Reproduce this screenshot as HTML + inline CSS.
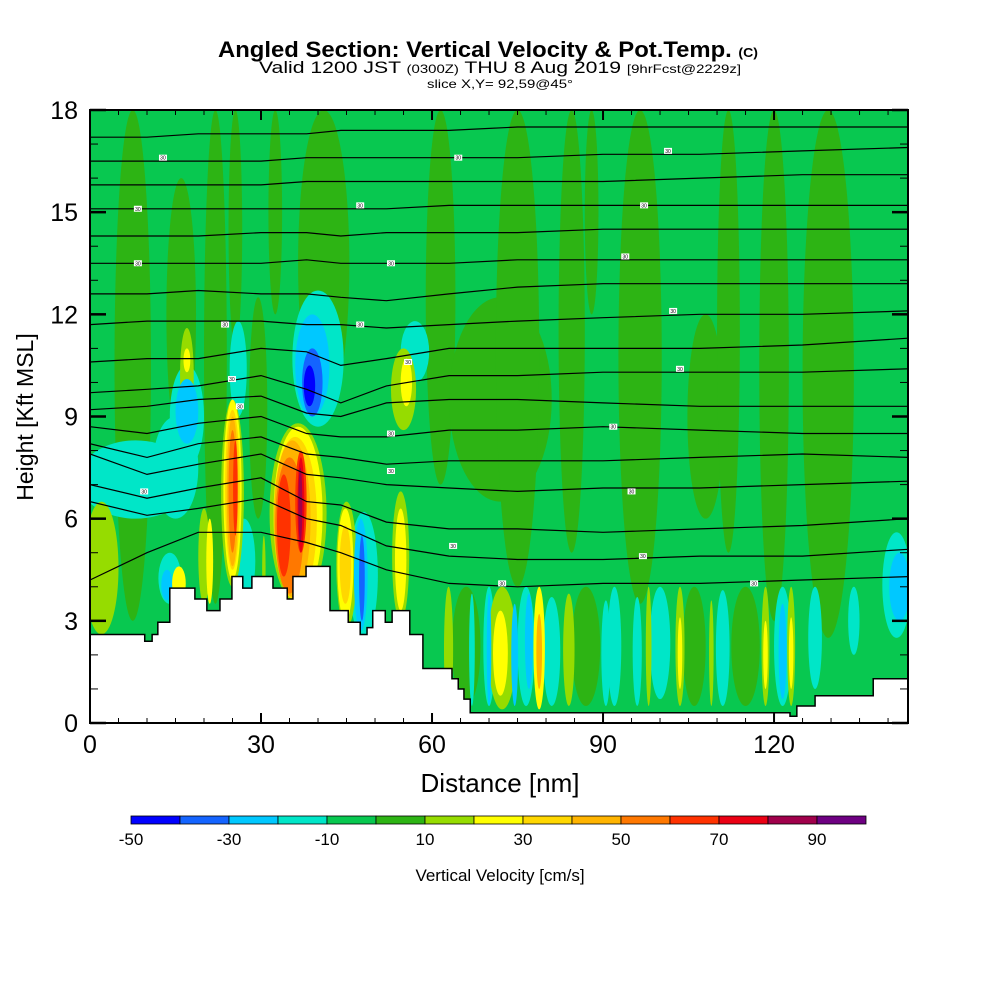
<!DOCTYPE html>
<html><head><meta charset="utf-8"><style>
html,body{margin:0;padding:0;background:#fff;}
svg{display:block;font-family:"Liberation Sans",sans-serif;}
</style></head><body>
<svg id="chart" width="1000" height="1000" viewBox="0 0 1000 1000" xmlns="http://www.w3.org/2000/svg">
<g>
<text x="218" y="57" font-size="22" font-weight="bold" textLength="540" lengthAdjust="spacingAndGlyphs">Angled Section: Vertical Velocity &amp; Pot.Temp. <tspan font-size="13">(C)</tspan></text>
<text x="259" y="73" font-size="17" textLength="482" lengthAdjust="spacingAndGlyphs">Valid 1200 JST <tspan font-size="12">(0300Z)</tspan> THU 8 Aug 2019 <tspan font-size="12">[9hrFcst@2229z]</tspan></text>
<text x="427" y="88" font-size="12" textLength="146" lengthAdjust="spacingAndGlyphs">slice X,Y= 92,59@45°</text>
</g>
<defs><clipPath id="plotclip"><rect x="90" y="110" width="818" height="613"/></clipPath></defs>
<g id="plot" clip-path="url(#plotclip)"></g>
<g id="axes"></g>
<g id="cbar"></g>
<text x="500" y="792" text-anchor="middle" font-size="26">Distance [nm]</text>
<text transform="translate(33,417) rotate(-90)" text-anchor="middle" font-size="23">Height [Kft MSL]</text>
<text x="500" y="881" text-anchor="middle" font-size="17">Vertical Velocity [cm/s]</text>
</svg>
<script>
// ---- data ----
const xTicks = [0, 30, 60, 90, 120];
const yTicks = [0, 3, 6, 9, 12, 15, 18];
const cbarLevels = [-50,-40,-30,-20,-10,0,10,20,30,40,50,60,70,80,90];
const cbarLabels = [-50,-30,-10,10,30,50,70,90];
const cbarColors = ['#0000ff','#1464ff','#00c8ff','#00e6c8','#08c850','#2db414','#96dc00','#ffff00','#ffd700','#ffb400','#ff7800','#ff3200','#eb0014','#a0004b','#6e0082'];
// velocity features: [centerNm, bottomKft, topKft, halfWidthNm, value cm/s]
const wStripes = [
[7.5,3,18,3.2,5],[16,8,16,2.6,5],[22,3.5,18,2,5],[25.5,11,18,1.2,5],[29.5,6,12.5,1.6,5],[32.5,12,18,1.2,5],[41,9,18,4.5,5],[61.5,7,18,2.6,5],[72,6.5,12.5,9,5],[75,4,18,3.8,5],[84.5,5,18,2.3,5],[88,12,18,1.2,5],[96.5,3.5,18,3.8,5],[108,6,12,3.2,5],[112,5,18,2,5],[120,3,18,2.6,5],[129.5,2.5,18,4.5,5],[66,0.5,4,2.5,5],[87,0.5,4,2.5,5],[106,0.5,4,2,5],[115,0.5,4,2.5,5]
];
const wDown1 = [
[8,6,8.3,10,-15],[15,6,9,4,-15],[40,8.7,12.7,4.5,-15],[26,9,11.8,1.5,-15],[57,10,11.8,2.5,-15],[27,3.5,6,2,-15],[67,0.5,3.8,0.5,-15],[70,0.5,4,1,-15],[76.5,0.5,4,1.5,-15],[81,0.5,3.7,1.5,-15],[90.5,0.5,3.6,0.8,-15],[92,0.5,4,1.2,-15],[96,0.5,3.7,0.8,-15],[100,0.7,4,1.8,-15],[111,0.5,3.9,1.2,-15],[121.5,0.5,4,1.5,-15],[127.2,1,4,1.2,-15],[134,2,4,1,-15],[141.5,2.5,5.6,2.5,-15],[48,2.5,6.2,2.5,-15],[14,3.5,5,2,-15],[17,7.5,10.5,3,-15]
];
const wUp1 = [
[2,2.6,6.5,3,15],[17,8.9,11.6,1.2,15],[55,8.6,11,2.2,15],[62.9,0.3,4,0.8,15],[72.3,0.4,4,2.5,15],[84,0.5,3.8,1,15],[98,0.5,4,0.5,15],[103.5,0.5,4,0.8,15],[109,0.5,3.6,0.4,15],[118.5,0.5,4,0.7,15],[123,0.5,4,0.7,15],[20,3.5,6.3,1,15],[25,4,9.5,2,15],[36.5,3.5,8.8,5,15],[45,2.8,6.5,1.8,15],[54.5,3,6.8,1.5,15],[30.5,3.5,5.5,0.3,15]
];
const wDown2 = [
[17,8.2,10.1,2,-25],[13.5,3.6,4.5,1,-25],[39,9,12,3,-25],[47.5,2.7,6,1.2,-25],[70,0.5,3.8,0.4,-25],[74.5,0.5,3.5,0.6,-25],[77,1,3.8,0.7,-25],[121.5,0.7,3.5,0.7,-25],[142,3,5,1.8,-25]
];
const wUp2 = [
[17,10.3,11,0.6,25],[15.6,3.6,4.6,1.2,25],[21,3.5,6,0.6,25],[25,4.2,9.5,1.6,25],[36.5,3.6,8.7,4.3,25],[44.8,3,6.3,1.4,25],[54.5,3.3,6.3,1,25],[55.5,9.3,10.7,1,25],[72,0.8,3.3,1.3,25],[78.8,0.4,4,1,25],[103.5,1,3.1,0.4,25],[118.5,1,3,0.4,25],[123,1,3.1,0.4,25]
];
const wStrong = [
[25,4.5,9.2,1.3,35],[36,3.6,8.4,3.8,35],[44.8,3.5,5.8,1,35],
[25,4.6,9,1,45],[35.5,3.7,8.3,3.2,45],[78.8,1,3.2,0.5,45],
[25,5,8.6,0.7,55],[35,3.8,7.8,2.5,55],
[25.5,5.5,8.3,0.4,65],[34,4.3,7.3,1.2,65],[37,5,8,1,65],
[37,5,7.8,0.6,75],[36.9,5.3,7.5,0.35,85],
[39,9,11,1.8,-35],[47.7,3,5.5,0.5,-35],[38.5,9.3,10.5,1,-45]
];
// potential temperature contours: heights (kft) at these distances (nm)
const thetaX = [0,10,19,30,38,44,52,63,75,90,107,125,143.5];
const theta1 = [17.2,17.2,17.3,17.3,17.3,17.4,17.4,17.4,17.5,17.5,17.5,17.5,17.5];
const theta2 = [16.5,16.5,16.5,16.5,16.6,16.6,16.6,16.6,16.6,16.7,16.7,16.8,16.9];
const theta3 = [15.8,15.8,15.8,15.8,15.9,15.9,15.9,15.9,15.9,15.9,16.0,16.1,16.1];
const theta4 = [15.1,15.1,15.1,15.1,15.1,15.1,15.1,15.2,15.2,15.2,15.2,15.2,15.2];
const theta5 = [14.3,14.3,14.3,14.4,14.4,14.3,14.4,14.4,14.4,14.5,14.5,14.5,14.5];
const theta6 = [13.5,13.5,13.5,13.5,13.6,13.5,13.5,13.5,13.6,13.6,13.6,13.6,13.6];
const theta7 = [12.6,12.6,12.7,12.6,12.6,12.5,12.4,12.6,12.8,12.9,12.9,12.9,12.9];
const theta8 = [11.7,11.8,11.8,11.8,11.7,11.7,11.6,11.7,11.8,11.9,12.0,12.0,12.1];
const theta9 = [10.6,10.7,10.7,11.0,10.9,10.5,10.7,11.0,11.0,11.0,11.0,11.1,11.3];
const theta10 = [9.7,9.8,9.9,10.2,9.8,9.4,9.9,10.2,10.2,10.3,10.3,10.3,10.4];
const theta11 = [9.2,9.3,9.5,9.6,9.1,9.0,9.4,9.5,9.5,9.4,9.3,9.3,9.3];
const theta12 = [8.7,8.5,8.8,9.0,8.5,8.4,8.4,8.6,8.6,8.7,8.6,8.5,8.5];
const theta13 = [8.2,7.8,8.2,8.4,7.9,7.8,7.6,7.7,7.7,7.7,7.8,7.9,7.8];
const theta14 = [7.9,7.3,7.6,7.9,7.3,7.2,7.0,6.9,6.8,6.9,6.9,7.0,7.1];
const theta15 = [7.0,6.6,6.9,7.2,6.5,6.4,5.9,5.7,5.7,5.6,5.7,5.8,6.0];
const theta16 = [6.5,6.1,6.3,6.6,6.0,5.8,5.2,4.9,4.8,4.8,4.9,4.9,5.1];
const theta17 = [4.2,5.0,5.6,5.6,5.3,5.0,4.5,4.1,4.0,4.1,4.1,4.2,4.3];
const thetaLines = [theta1,theta2,theta3,theta4,theta5,theta6,theta7,theta8,theta9,theta10,theta11,theta12,theta13,theta14,theta15,theta16,theta17];
// contour labels [nm, kft]
const labelPos = [[12.8,16.6],[64.6,16.6],[101.4,16.8],[8.4,15.1],[47.4,15.2],[97.2,15.2],[8.4,13.5],[52.8,13.5],[93.9,13.7],[23.7,11.7],[47.4,11.7],[102.3,12.1],[55.8,10.6],[103.5,10.4],[24.9,10.1],[26.3,9.3],[52.8,8.5],[91.8,8.7],[9.5,6.8],[52.8,7.4],[95,6.8],[63.7,5.2],[97,4.9],[72.3,4.1],[116.5,4.1]];
// terrain steps [startNm, heightKft]
const terrainX = [0,9.6,10.9,11.9,14.0,18.4,20.5,22.8,24.9,26.8,28.4,32.1,34.6,35.6,37.9,42.1,45.3,47.4,48.6,49.6,51.8,53.0,56.1,58.4,63.5,64.6,65.6,66.7,114,122.8,124,127.2,137.4];
const terrainH = [2.6,2.4,2.6,2.96,3.96,3.64,3.3,3.64,4.3,3.96,4.3,3.96,3.64,4.3,4.6,3.3,2.96,2.6,2.8,3.3,2.96,3.3,2.6,1.6,1.3,1.0,0.7,0.3,0.3,0.2,0.5,0.8,1.3];

// ---- scales ----
const X0=90, X1=908, Y0=723, Y1=110, XMAX=143.5, YMAX=18;
const sx = v => X0 + v*(X1-X0)/XMAX;
const sy = v => Y0 - v*(Y0-Y1)/YMAX;
const NS='http://www.w3.org/2000/svg';
function mk(tag, parent){ const e=document.createElementNS(NS,tag); parent.appendChild(e); return e; }
function colorFor(v){ let i=Math.floor((v+50)/10); i=Math.max(0,Math.min(14,i)); return cbarColors[i]; }

const plot=document.getElementById('plot');
const bg=mk('rect',plot);
bg.setAttribute('x',X0);bg.setAttribute('y',Y1);bg.setAttribute('width',X1-X0);bg.setAttribute('height',Y0-Y1);bg.setAttribute('fill',colorFor(-5));



[wStripes,wDown1,wUp1,wDown2,wUp2,wStrong].forEach(group=>{
  group.forEach(b=>{
    const e=mk('ellipse',plot);
    e.setAttribute('cx',sx(b[0]));
    e.setAttribute('cy',(sy(b[1])+sy(b[2]))/2);
    e.setAttribute('rx',sx(b[3])-X0);
    e.setAttribute('ry',(sy(b[1])-sy(b[2]))/2);
    e.setAttribute('fill',colorFor(b[4]));
    
    
  });
});

thetaLines.forEach(line=>{
  const p=mk('polyline',plot);
  p.setAttribute('points',line.map((h,i)=>sx(thetaX[i]).toFixed(1)+','+sy(h).toFixed(1)).join(' '));
  p.setAttribute('fill','none');p.setAttribute('stroke','#000');p.setAttribute('stroke-width','1.2');
  
  
});
labelPos.forEach(l=>{
  const r=mk('rect',plot);
  r.setAttribute('x',sx(l[0])-4);r.setAttribute('y',sy(l[1])-3);r.setAttribute('width',8);r.setAttribute('height',6);r.setAttribute('fill','#fff');
  
  
  const t=mk('text',plot);
  t.setAttribute('x',sx(l[0]));t.setAttribute('y',sy(l[1])+2);t.setAttribute('font-size','5');t.setAttribute('text-anchor','middle');
  t.textContent='30';
  
  
});

// terrain
let d='M'+X0+','+Y0;
terrainX.forEach((x,i)=>{
  const xn = i+1<terrainX.length ? terrainX[i+1] : XMAX;
  d+=' L'+sx(x)+','+sy(terrainH[i])+' L'+sx(xn)+','+sy(terrainH[i]);
});
d+=' L'+X1+','+Y0+' Z';
const ter=mk('path',plot);
ter.setAttribute('d',d);ter.setAttribute('fill','#fff');ter.setAttribute('stroke','#000');ter.setAttribute('stroke-width','1.5');



// axes
const ax=document.getElementById('axes');
for(let v=0; v<=XMAX; v+=5){
  const major = v%30===0, L = major?10:5;
  [[Y0,-L],[Y1,L]].forEach(([y,dy])=>{
    const t=mk('line',ax);
    t.setAttribute('x1',sx(v));t.setAttribute('x2',sx(v));t.setAttribute('y1',y);t.setAttribute('y2',y+dy);
    t.setAttribute('stroke','#000');t.setAttribute('stroke-width',major?2:1);
    
    
  });
}
xTicks.forEach(v=>{
  const t=mk('text',ax);
  t.setAttribute('x',sx(v));t.setAttribute('y',753);t.setAttribute('font-size','25');t.setAttribute('text-anchor','middle');
  t.textContent=v;
  
  
});
for(let v=0; v<=YMAX; v+=1){
  const major=v%3===0, L=major?16:8;
  [[X0,L],[X1,-L]].forEach(([x,dx])=>{
    const t=mk('line',ax);
    t.setAttribute('x1',x);t.setAttribute('x2',x+dx);t.setAttribute('y1',sy(v));t.setAttribute('y2',sy(v));
    t.setAttribute('stroke','#000');t.setAttribute('stroke-width',major?2.5:1);
    
    
  });
}
yTicks.forEach(v=>{
  const t=mk('text',ax);
  t.setAttribute('x',78);t.setAttribute('y',sy(v)+9);t.setAttribute('font-size','25');t.setAttribute('text-anchor','end');
  t.textContent=v;
  
  
});
const fr=mk('rect',ax);
fr.setAttribute('x',X0);fr.setAttribute('y',Y1);fr.setAttribute('width',X1-X0);fr.setAttribute('height',Y0-Y1);
fr.setAttribute('fill','none');fr.setAttribute('stroke','#000');fr.setAttribute('stroke-width','2');



// colorbar
const cb=document.getElementById('cbar');
const CB0=131, CBW=49;
const cbx = v => CB0 + (v+50)/10*CBW;
cbarLevels.forEach((lv,i)=>{
  const r=mk('rect',cb);
  r.setAttribute('x',cbx(lv));r.setAttribute('y',816);r.setAttribute('width',CBW);r.setAttribute('height',8);
  r.setAttribute('fill',cbarColors[i]);r.setAttribute('stroke','#000');r.setAttribute('stroke-width','0.8');
  
  
});
cbarLabels.forEach(v=>{
  const t=mk('text',cb);
  t.setAttribute('x',cbx(v));t.setAttribute('y',845);t.setAttribute('font-size','17');t.setAttribute('text-anchor','middle');
  t.textContent=v;
  
  
});
</script>
</body></html>
